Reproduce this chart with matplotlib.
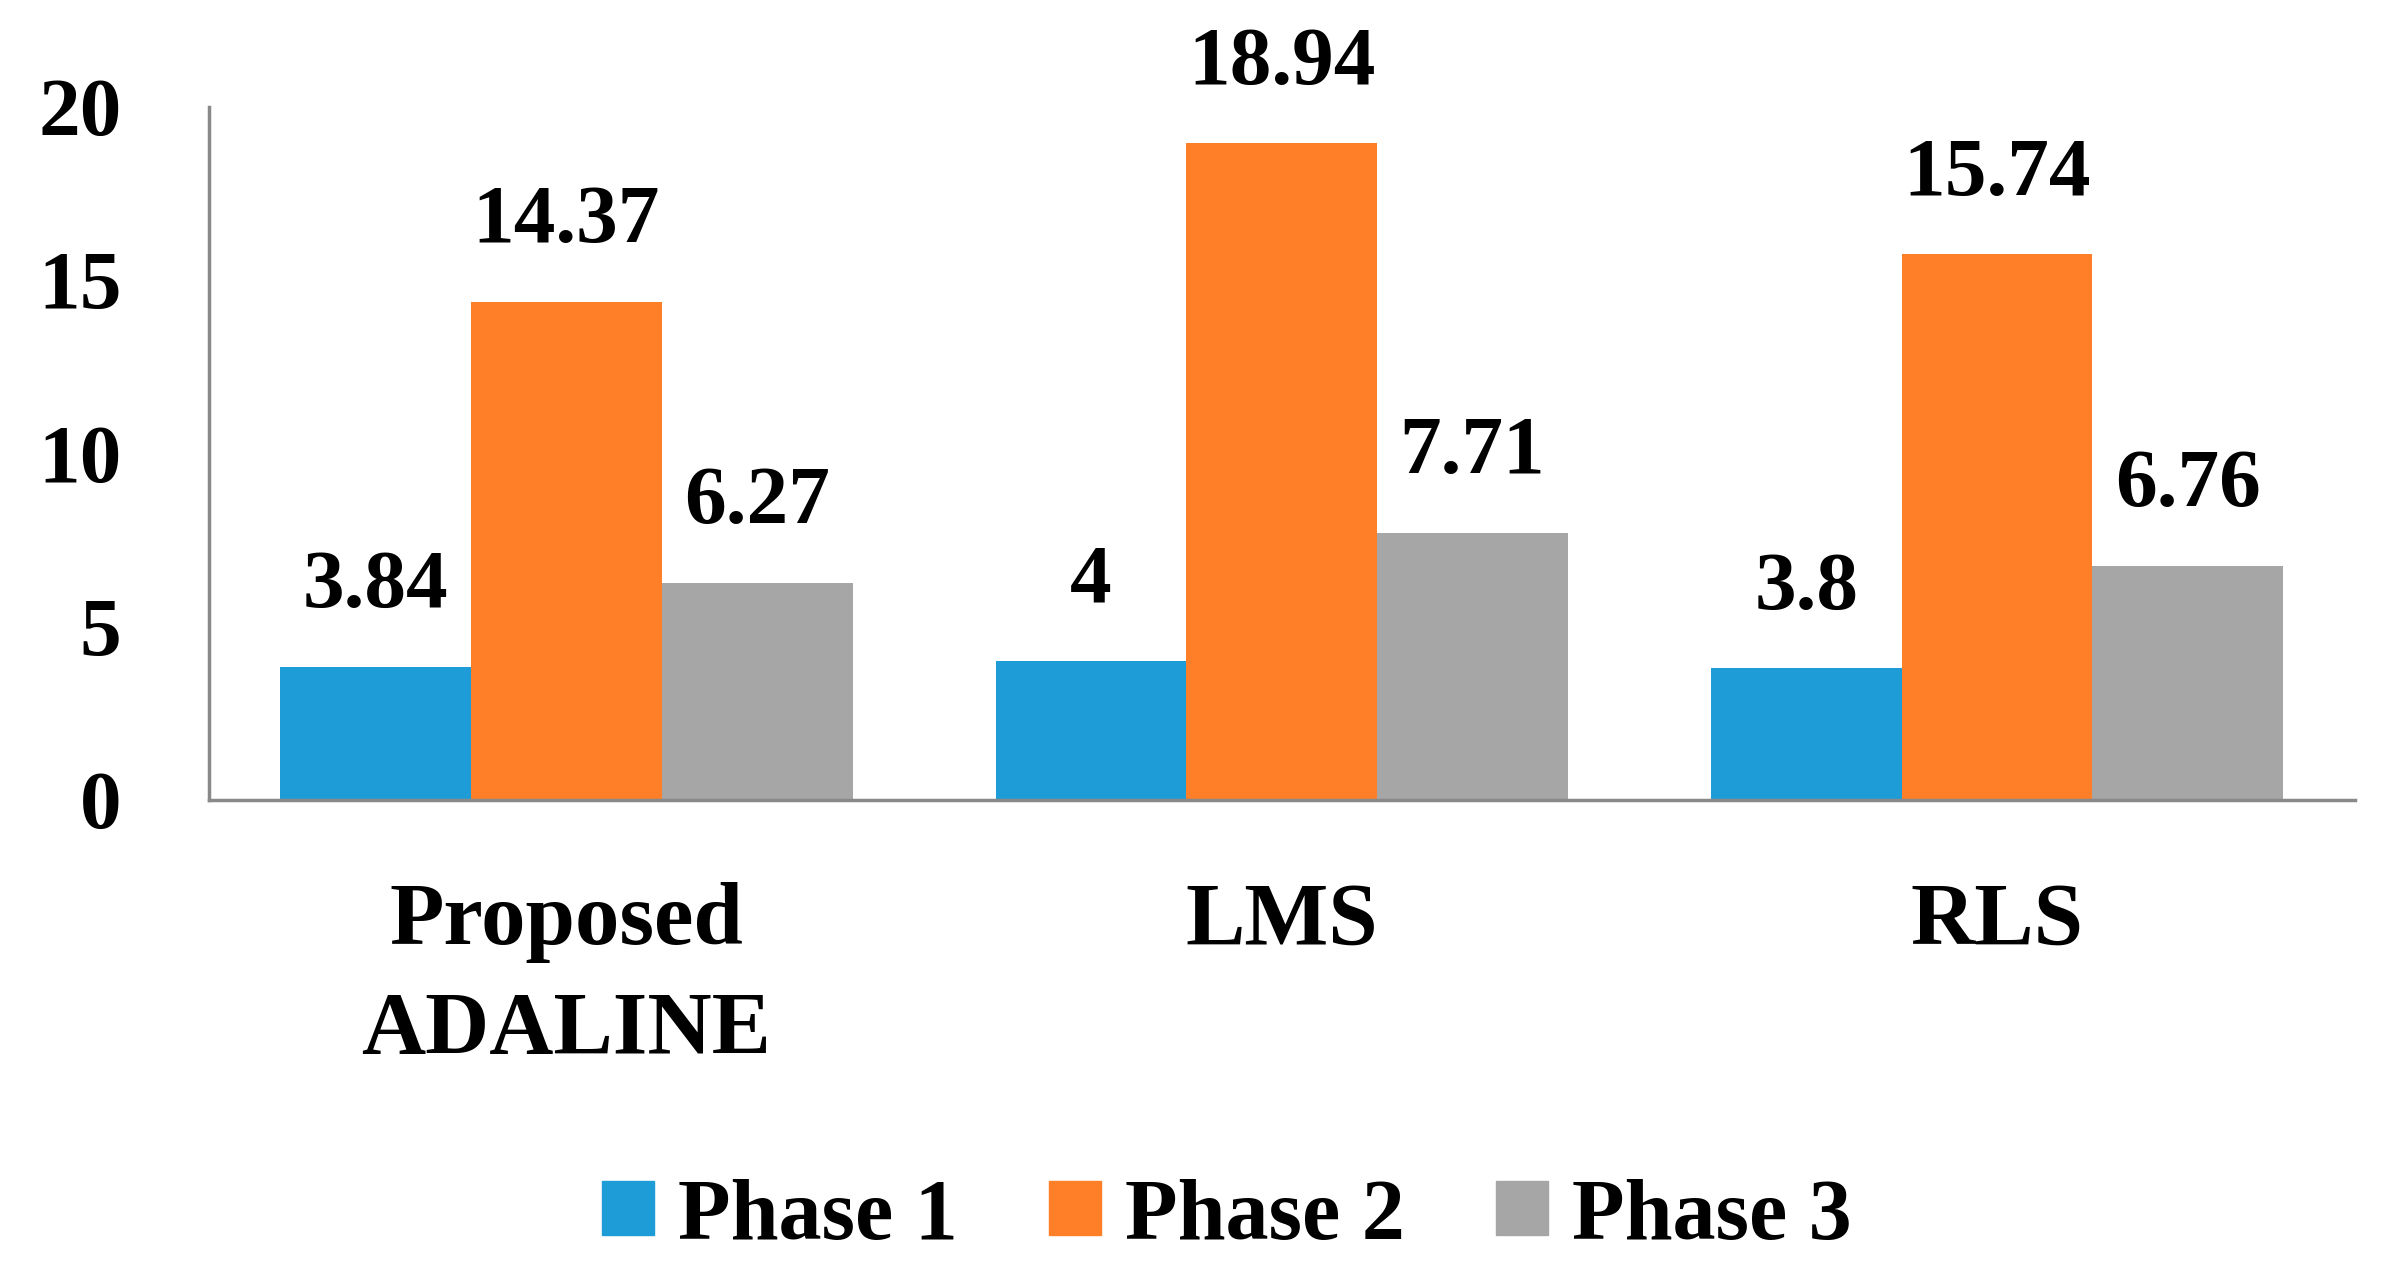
import matplotlib.pyplot as plt
import numpy as np
from matplotlib.patches import Patch

## data
methods = ['Proposed\nADALINE', 'LMS', 'RLS']
phases = ['Phase 1', 'Phase 2', 'Phase 3']
phase1 = [3.84, 4, 3.8]
phase2 = [14.37, 18.94, 15.74]
phase3 = [6.27, 7.71, 6.76]
labels1 = ['3.84', '4', '3.8']
labels2 = ['14.37', '18.94', '15.74']
labels3 = ['6.27', '7.71', '6.76']
yticks = [0, 5, 10, 15, 20]

colors = ['#1e9cd7', '#fe7f27', '#a6a6a6']

plt.rcParams['font.family'] = ['Liberation Serif', 'DejaVu Serif']
plt.rcParams['font.weight'] = 'bold'

fig = plt.figure(figsize=(23.96, 12.84), dpi=100)
ax = fig.add_axes([0.0872, 0.377, 0.8955, 0.54])

x = np.arange(len(methods))
w = 0.8 / 3
series = [(phase1, labels1), (phase2, labels2), (phase3, labels3)]
for i, (vals, labs) in enumerate(series):
    bars = ax.bar(x + (i - 1) * w, vals, w, color=colors[i], label=phases[i])
    for b, t in zip(bars, labs):
        ax.annotate(t, (b.get_x() + b.get_width() / 2, b.get_height()),
                    xytext=(0, 43), textcoords='offset points',
                    ha='center', va='baseline', fontsize=60, fontweight='bold')

ax.set_xlim(-0.5, 2.5)
ax.set_ylim(0, 20)
ax.set_yticks(yticks)
ax.set_xticks(x)
ax.set_xticklabels(methods, fontsize=64, fontweight='bold', linespacing=1.45)
ax.tick_params(axis='y', length=0, pad=63, labelsize=60)
ax.tick_params(axis='x', length=0, pad=59)

for s in ['top', 'right']:
    ax.spines[s].set_visible(False)
for s in ['left', 'bottom']:
    ax.spines[s].set_color('#898989')
    ax.spines[s].set_linewidth(2.5)

handles = [Patch(color=c) for c in colors]
fig.legend(handles, phases, loc='center', bbox_to_anchor=(0.512, 0.0514),
           ncol=3, frameon=False, fontsize=62, handlelength=0.6,
           handleheight=0.6, handletextpad=0.28, columnspacing=1.06)

fig.savefig('out.png', dpi=100)
